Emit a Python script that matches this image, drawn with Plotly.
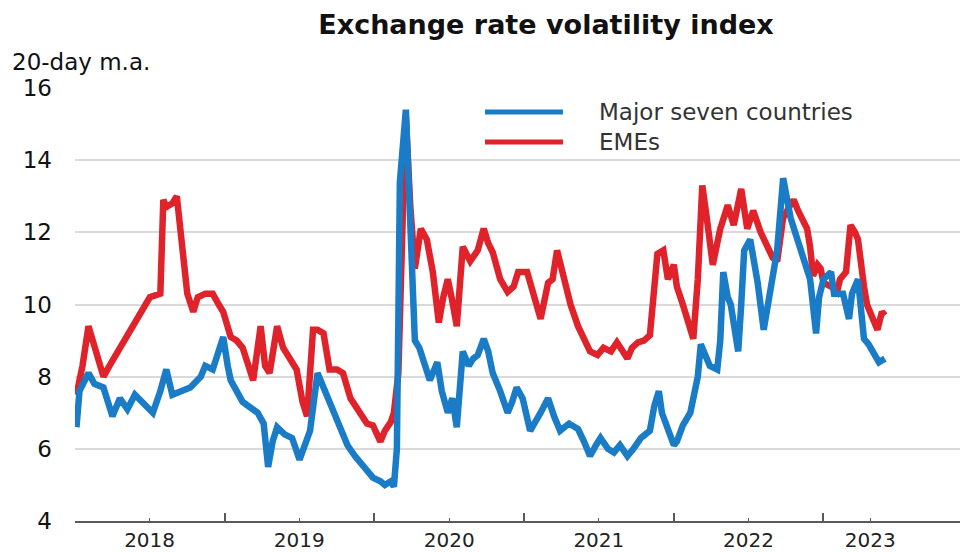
import numpy as np
import pandas as pd
import plotly.graph_objects as go

# ── Data (time as decimal years) ────────────────────────────────────────────
G7_T = [2018.01, 2018.03, 2018.09, 2018.13, 2018.19, 2018.25, 2018.30, 2018.35, 2018.40, 2018.47,
        2018.52, 2018.57, 2018.61, 2018.65, 2018.70, 2018.77, 2018.84, 2018.87, 2018.92, 2018.97,
        2018.99,
        2019.02, 2019.04, 2019.12, 2019.18, 2019.22, 2019.26, 2019.29, 2019.32, 2019.35, 2019.40,
        2019.45, 2019.50, 2019.54, 2019.57, 2019.62, 2019.65, 2019.68, 2019.75, 2019.82, 2019.87,
        2019.91, 2019.95, 2019.99,
        2020.04, 2020.07, 2020.11, 2020.13, 2020.15, 2020.17, 2020.21, 2020.23, 2020.25, 2020.27,
        2020.30, 2020.33, 2020.37, 2020.42, 2020.45, 2020.49, 2020.52, 2020.55, 2020.59, 2020.63,
        2020.66, 2020.69, 2020.73, 2020.76, 2020.79, 2020.84, 2020.89, 2020.92, 2020.95, 2020.99,
        2021.04, 2021.11, 2021.16, 2021.20, 2021.24, 2021.30, 2021.36, 2021.40, 2021.44, 2021.48,
        2021.51, 2021.56, 2021.60, 2021.64, 2021.69, 2021.73, 2021.78, 2021.81, 2021.84, 2021.87,
        2021.90, 2021.92, 2021.96,
        2022.00, 2022.02, 2022.06, 2022.11, 2022.13, 2022.16, 2022.18, 2022.21, 2022.24, 2022.29,
        2022.31, 2022.33, 2022.36, 2022.38, 2022.41, 2022.43, 2022.45, 2022.47, 2022.51, 2022.56,
        2022.60, 2022.63, 2022.65, 2022.69, 2022.73, 2022.76, 2022.78, 2022.81, 2022.85, 2022.88,
        2022.91, 2022.95, 2022.97,
        2023.00, 2023.05, 2023.07, 2023.13, 2023.17, 2023.19, 2023.23, 2023.27, 2023.30, 2023.33,
        2023.37, 2023.41]
G7_VALUES = [6.6, 7.6, 8.1, 7.8, 7.7, 6.9, 7.4, 7.1, 7.5, 7.2,
             7.0, 7.6, 8.2, 7.5, 7.6, 7.7, 8.0, 8.3, 8.2, 8.8,
             9.1,
             8.3, 7.9, 7.3, 7.1, 7.0, 6.7, 5.5, 6.2, 6.6, 6.4,
             6.3, 5.7, 6.2, 6.5, 8.1, 7.8, 7.5, 6.8, 6.1, 5.8,
             5.6, 5.4, 5.2,
             5.1, 5.0, 5.1, 4.95, 6.0, 13.4, 15.4, 13.5, 10.7, 9.0,
             8.8, 8.4, 7.9, 8.4, 7.6, 7.0, 7.4, 6.6, 8.7, 8.3,
             8.5, 8.6, 9.05, 8.7, 8.1, 7.6, 7.0, 7.3, 7.7, 7.4,
             6.5, 7.0, 7.4, 6.9, 6.5, 6.7, 6.55, 6.2, 5.8, 6.1,
             6.3, 6.0, 5.9, 6.1, 5.8, 6.0, 6.3, 6.4, 6.5, 7.2,
             7.6, 7.0, 6.5,
             6.1, 6.2, 6.65, 7.0, 7.5, 8.0, 8.9, 8.6, 8.3, 8.2,
             9.0, 10.9, 10.2, 10.0, 9.2, 8.7, 10.0, 11.5, 11.8, 10.6,
             9.3, 10.0, 10.7, 11.5, 13.5, 12.8, 12.4, 12.0, 11.5, 11.0,
             10.7, 9.2, 10.2,
             10.7, 10.9, 10.3, 10.3, 9.6, 10.3, 10.7, 9.05, 8.9, 8.7,
             8.4, 8.5]

EME_T = [2018.01, 2018.05, 2018.09, 2018.13, 2018.19, 2018.23, 2018.30, 2018.37, 2018.45, 2018.50,
         2018.57, 2018.59, 2018.61, 2018.65, 2018.68, 2018.71, 2018.74, 2018.75, 2018.79, 2018.82,
         2018.87, 2018.92, 2018.96, 2018.99,
         2019.04, 2019.08, 2019.12, 2019.19, 2019.24, 2019.27, 2019.30, 2019.35, 2019.39, 2019.44,
         2019.48, 2019.52, 2019.55, 2019.59, 2019.62, 2019.66, 2019.70, 2019.75, 2019.79, 2019.84,
         2019.87, 2019.91, 2019.95, 2019.99,
         2020.04, 2020.07, 2020.11, 2020.13, 2020.16, 2020.19, 2020.21, 2020.24, 2020.27, 2020.31,
         2020.35, 2020.39, 2020.43, 2020.46, 2020.49, 2020.52, 2020.55, 2020.59, 2020.64, 2020.69,
         2020.73, 2020.76, 2020.79, 2020.84, 2020.89, 2020.93, 2020.96,
         2021.02, 2021.06, 2021.11, 2021.16, 2021.19, 2021.22, 2021.26, 2021.31, 2021.36, 2021.40,
         2021.44, 2021.49, 2021.53, 2021.58, 2021.62, 2021.66, 2021.69, 2021.72, 2021.76, 2021.80,
         2021.84, 2021.87, 2021.89, 2021.93, 2021.96,
         2022.00, 2022.02, 2022.06, 2022.10, 2022.13, 2022.16, 2022.19, 2022.22, 2022.26, 2022.31,
         2022.36, 2022.40, 2022.45, 2022.49, 2022.53, 2022.58, 2022.63, 2022.66, 2022.69, 2022.73,
         2022.77, 2022.80, 2022.83, 2022.87, 2022.89, 2022.91, 2022.93, 2022.96, 2022.98,
         2023.00, 2023.05, 2023.09, 2023.11, 2023.15, 2023.18, 2023.21, 2023.23, 2023.27, 2023.29,
         2023.33, 2023.36, 2023.39, 2023.41]
EME_VALUES = [7.5, 8.3, 9.4, 8.8, 8.0, 8.3, 8.8, 9.3, 9.9, 10.2,
              10.3, 12.9, 12.7, 12.8, 13.0, 11.8, 10.6, 10.3, 9.8, 10.2,
              10.3, 10.3, 10.0, 9.8,
              9.1, 9.0, 8.8, 7.9, 9.4, 8.3, 8.1, 9.4, 8.8, 8.5,
              8.2, 7.3, 6.9, 9.3, 9.3, 9.2, 8.2, 8.2, 8.1, 7.4,
              7.2, 7.0, 6.7, 6.65,
              6.2, 6.5, 6.75, 7.0, 8.1, 12.55, 15.2, 12.7, 11.0, 12.1,
              11.8, 10.9, 9.5, 10.2, 10.7, 10.1, 9.4, 11.6, 11.2, 11.5,
              12.1, 11.7, 11.45, 10.7, 10.35, 10.5, 10.9,
              10.9, 10.3, 9.6, 10.6, 10.7, 11.5, 10.8, 10.0, 9.4, 9.0,
              8.7, 8.6, 8.8, 8.7, 8.95, 8.7, 8.5, 8.8, 8.95, 9.0,
              9.15, 10.5, 11.4, 11.5, 10.7,
              11.1, 10.5, 10.0, 9.5, 9.05, 10.7, 13.3, 12.4, 11.1, 12.1,
              12.75, 12.2, 13.2, 12.1, 12.6, 12.0, 11.6, 11.3, 11.2, 12.4,
              12.7, 12.9, 12.6, 12.3, 12.1, 11.6, 10.8, 11.1, 11.0,
              10.6, 10.5, 10.35, 10.7, 10.9, 12.2, 12.0, 11.8, 10.5, 10.0,
              9.6, 9.3, 9.8, 9.7]

SERIES_NAMES = ["Major seven countries", "EMEs"]
Y_TICKS = [4, 6, 8, 10, 12, 14, 16]
X_LABELS = ["2018", "2019", "2020", "2021", "2022", "2023"]
X_LABEL_DATES = ["2018-07-02", "2019-07-02", "2020-07-02", "2021-07-02", "2022-07-02", "2023-04-25"]
YEAR_STARTS = ["2018-01-01", "2019-01-01", "2020-01-01", "2021-01-01", "2022-01-01", "2023-01-01"]

# ── Styling ─────────────────────────────────────────────────────────────────
BLUE = "#1a7cc6"
RED = "#e0222b"
GRID = "#dadada"
AXIS = "#5a5a5a"
FONT = "DejaVu Sans"

# page has an 8px body margin, so the figure is 8px smaller on each axis
FIG_W, FIG_H = 960, 544


def to_dates(years):
    years = np.asarray(years, dtype=float)
    start = pd.Timestamp("2018-01-01")
    return start + pd.to_timedelta((years - 2018) * 365.25, unit="D")


fig = go.Figure()
fig.add_trace(go.Scatter(x=to_dates(EME_T), y=EME_VALUES, mode="lines",
                         name=SERIES_NAMES[1], line=dict(color=RED, width=6.5)))
fig.add_trace(go.Scatter(x=to_dates(G7_T), y=G7_VALUES, mode="lines",
                         name=SERIES_NAMES[0], line=dict(color=BLUE, width=6.5)))

fig.update_layout(
    width=FIG_W, height=FIG_H,
    margin=dict(l=67, r=6, t=80, b=31, autoexpand=False),
    paper_bgcolor="white", plot_bgcolor="white",
    showlegend=False,
    font=dict(family=FONT, color="#1a1a1a"),
    title=dict(text="<b>Exchange rate volatility index</b>",
               font=dict(size=27, color="#111111", family=FONT),
               x=538 / FIG_W, xanchor="center", xref="container",
               y=1 - 17 / FIG_H, yanchor="middle", yref="container"),
    xaxis=dict(
        type="date", automargin=False,
        range=["2018-01-01", "2023-12-05"],
        tickvals=X_LABEL_DATES, ticktext=X_LABELS,
        ticks="inside", ticklen=3, tickwidth=1, tickcolor=AXIS,
        minor=dict(tickvals=YEAR_STARTS, ticks="inside", ticklen=8,
                   tickwidth=1.5, tickcolor=AXIS, showgrid=False),
        showline=True, linecolor=AXIS, linewidth=1.5,
        showgrid=False, zeroline=False,
        tickfont=dict(size=20, color="#222222"),
    ),
    yaxis=dict(
        range=[4, 16], tickvals=Y_TICKS, automargin=False,
        showgrid=True, gridcolor=GRID, gridwidth=1.5,
        zeroline=False, showline=False, ticks="",
        ticklabelstandoff=22,
        tickfont=dict(size=23, color="#111111"),
    ),
)

# y-axis unit label
fig.add_annotation(text="20-day m.a.", xref="paper", yref="paper",
                   x=(10 - 75) / 887, y=(521 - 62) / 433,
                   xanchor="left", yanchor="middle", showarrow=False,
                   font=dict(size=23, color="#111111"))

# hand-drawn legend (long line samples as in the reference)
for name, color, ypx in [(SERIES_NAMES[0], BLUE, 112), (SERIES_NAMES[1], RED, 142)]:
    yp = (521 - ypx) / 433
    fig.add_shape(type="line", xref="paper", yref="paper",
                  x0=(485 - 75) / 887, x1=(563 - 75) / 887, y0=yp, y1=yp,
                  line=dict(color=color, width=5))
    fig.add_annotation(text=name, xref="paper", yref="paper",
                       x=(597 - 75) / 887, y=yp, xanchor="left", yanchor="middle",
                       showarrow=False, font=dict(size=23, color="#333333"))

fig.write_html("out.html")
